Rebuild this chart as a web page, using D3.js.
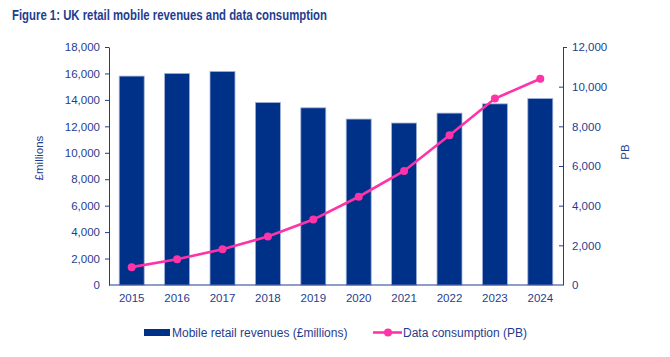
<!DOCTYPE html>
<html><head><meta charset="utf-8">
<script src="https://cdn.jsdelivr.net/npm/d3@7"></script>
<style>
body{margin:0;background:#fff;}
text{font-family:"Liberation Sans",Arial,sans-serif;}
</style></head>
<body><svg id="c" width="670" height="357"></svg>
<script>
const years = ["2015","2016","2017","2018","2019","2020","2021","2022","2023","2024"];
const revenues = [15800,16000,16150,13800,13400,12550,12250,13000,13700,14100];
const dataPB = [900,1300,1800,2450,3300,4450,5750,7550,9400,10400];
const leftTicks = [0,2000,4000,6000,8000,10000,12000,14000,16000,18000];
const rightTicks = [0,2000,4000,6000,8000,10000,12000];

const svg = d3.select("#c");
const navy = "#003189", pink = "#ff33a8", txt = "#1f3d8f";
const L = 109, R = 563, T = 47, B = 285;

const x = d3.scaleBand().domain(years).range([L, R]).paddingInner(0.45).paddingOuter(0.225);
const yL = d3.scaleLinear().domain([0,18000]).range([B, T]);
const yR = d3.scaleLinear().domain([0,12000]).range([B, T]);
const fmt = d3.format(",");

svg.append("text").attr("x",12).attr("y",20).text("Figure 1: UK retail mobile revenues and data consumption")
  .attr("fill",txt).attr("font-weight","bold").attr("font-size",14.5)
  .attr("textLength",315).attr("lengthAdjust","spacingAndGlyphs");

// bars
svg.append("g").selectAll("rect").data(years).join("rect")
  .attr("x", d=>x(d)).attr("width", x.bandwidth())
  .attr("y", (d,i)=>yL(revenues[i])).attr("height",(d,i)=>B-yL(revenues[i]))
  .attr("fill", navy).attr("stroke","#9fb0d8").attr("stroke-width",0.8);

// left axis
const gl = svg.append("g").attr("transform",`translate(${L},0)`)
  .call(d3.axisLeft(yL).tickValues(leftTicks).tickFormat(fmt).tickSize(4).tickSizeOuter(0).tickPadding(5));
// right axis
const gr = svg.append("g").attr("transform",`translate(${R},0)`)
  .call(d3.axisRight(yR).tickValues(rightTicks).tickFormat(fmt).tickSize(4).tickSizeOuter(0).tickPadding(5));
gr.selectAll(".tick line").attr("x2", (d)=> d===12000 ? 4 : -4);
gr.selectAll(".tick text").attr("x", 9);
[gl,gr].forEach(g=>{
  g.select(".domain").attr("stroke",txt);
  g.selectAll(".tick line").attr("stroke",txt);
  g.selectAll(".tick text").attr("fill",txt).attr("font-size",11.5).style("font-family","'Liberation Sans',Arial,sans-serif");
});
gl.selectAll(".tick").filter(d=>d===0).select("line").remove();
gr.selectAll(".tick").filter(d=>d===0).select("line").remove();

// x axis
const gx = svg.append("g").attr("transform",`translate(0,${B})`)
  .call(d3.axisBottom(x).tickSize(0).tickPadding(9));
gx.select(".domain").attr("stroke",txt).attr("d",`M${L},0H${R}`);
gx.selectAll(".tick text").attr("fill",txt).attr("font-size",11.5).style("font-family","'Liberation Sans',Arial,sans-serif");

// line
const line = d3.line().x((d,i)=>x(years[i])+x.bandwidth()/2).y(d=>yR(d));
svg.append("path").datum(dataPB).attr("d",line).attr("fill","none").attr("stroke",pink).attr("stroke-width",2.6);
svg.append("g").selectAll("circle").data(dataPB).join("circle")
  .attr("cx",(d,i)=>x(years[i])+x.bandwidth()/2).attr("cy",d=>yR(d)).attr("r",4).attr("fill",pink);

// axis titles
svg.append("text").attr("transform","translate(43,158) rotate(-90)").attr("text-anchor","middle")
  .attr("fill",txt).attr("font-size",11.5).text("£millions");
svg.append("text").attr("transform","translate(629,152) rotate(-90)").attr("text-anchor","middle")
  .attr("fill",txt).attr("font-size",11.5).text("PB");

// legend
const lg = svg.append("g");
lg.append("rect").attr("x",144).attr("y",329).attr("width",26).attr("height",7).attr("fill",navy);
lg.append("text").attr("x",172).attr("y",337).attr("fill",txt).attr("font-size",12).text("Mobile retail revenues (£millions)");
lg.append("line").attr("x1",373).attr("x2",402).attr("y1",332.5).attr("y2",332.5).attr("stroke",pink).attr("stroke-width",2.6);
lg.append("circle").attr("cx",388).attr("cy",332.5).attr("r",4).attr("fill",pink);
lg.append("text").attr("x",403).attr("y",337).attr("fill",txt).attr("font-size",12).text("Data consumption (PB)");
</script></body></html>
